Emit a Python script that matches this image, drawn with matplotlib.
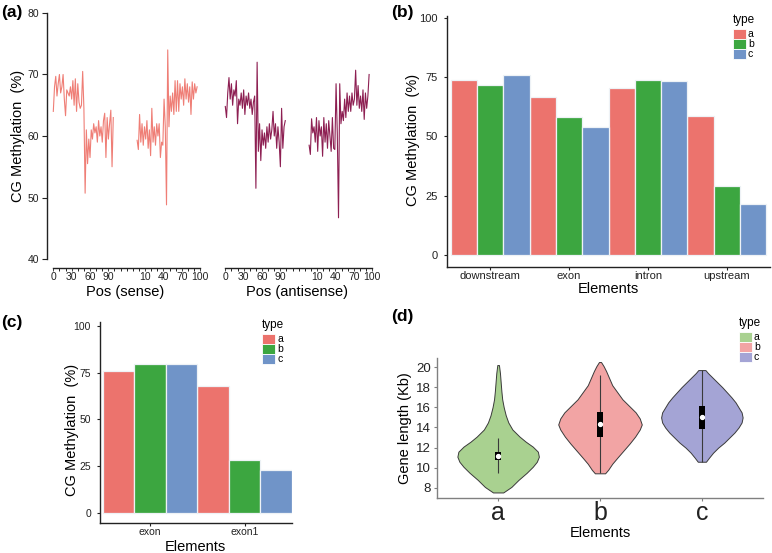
import numpy as np
import matplotlib
matplotlib.use('Agg')
import matplotlib.pyplot as plt
from matplotlib.patches import Rectangle

plt.rcParams['font.family'] = ['Liberation Sans', 'DejaVu Sans']

W, H = 772, 553

# ---- data -----------------------------------------------------------------
# (a) CG methylation along the gene, two segments per strand
pos_seg1 = list(range(0, 100, 2))
pos_seg2 = list(range(137, 237, 2))
pos_ticks = [0, 30, 60, 90, 150, 180, 210, 240]
pos_ticklabels = ['0', '30', '60', '90', '10', '40', '70', '100']

sense_seg1 = [64.0, 68.0, 69.7, 66.5, 68.5, 70.0, 67.0, 68.0, 70.0, 66.0,
              63.3, 67.5, 67.0, 66.5, 68.0, 66.0, 69.0, 65.0, 69.3, 64.0,
              68.5, 65.5, 64.5, 65.0, 70.5, 64.5, 50.7, 61.0, 55.5, 59.5,
              56.5, 61.0, 59.5, 62.0, 60.5, 61.5, 59.0, 62.5, 60.0, 61.5,
              59.0, 62.5, 63.7, 56.5, 63.0, 59.5, 62.0, 64.2, 55.0, 63.0]
sense_seg2 = [59.3, 57.8, 63.5, 59.0, 62.0, 58.5, 61.5, 59.5, 62.5, 58.0,
              61.0, 56.8, 64.5, 59.0, 61.5, 58.5, 62.0, 60.0, 62.0, 56.5,
              59.0, 58.5, 66.0, 61.5, 48.8, 74.0, 61.5, 66.5, 64.0, 67.0,
              63.5, 69.0, 64.0, 69.0, 64.0, 68.5, 66.0, 68.0, 65.0, 69.3,
              66.0, 68.5, 65.5, 68.0, 63.5, 68.8, 66.0, 68.5, 67.0, 68.0]
anti_seg1 = [64.8, 63.0, 67.0, 69.5, 66.0, 68.5, 65.0, 67.5, 66.5, 69.0,
             62.0, 66.0, 65.0, 67.0, 64.5, 67.5, 63.5, 66.5, 65.0, 67.0,
             64.5, 66.0, 63.5, 65.5, 66.5, 51.5, 72.0, 57.5, 62.0, 56.0,
             61.0, 58.5, 60.5, 58.0, 61.5, 59.0, 62.0, 59.5, 61.0, 64.0,
             60.0, 62.0, 58.0, 61.5, 59.0, 55.0, 64.5, 58.0, 61.5, 62.5]
anti_seg2 = [58.5, 57.0, 62.8, 60.5, 61.5, 59.0, 63.0, 57.5, 62.5, 60.0,
             61.5, 56.7, 63.0, 59.0, 62.0, 58.0, 62.5, 60.0, 57.5, 63.0,
             58.0, 57.8, 68.5, 60.5, 46.7, 68.5, 62.0, 64.0, 62.5, 66.0,
             63.0, 67.0, 64.0, 66.5, 64.0, 67.0, 65.0, 66.0, 70.7, 65.0,
             68.2, 64.5, 66.5, 64.0, 67.5, 62.7, 67.0, 64.5, 66.5, 70.0]

# (b) methylation per element
elements_b = ['downstream', 'exon', 'intron', 'upstream']
meth_b_a = [73.7, 66.6, 70.4, 58.7]
meth_b_b = [71.7, 58.2, 73.9, 29.2]
meth_b_c = [75.8, 53.8, 73.2, 21.4]

# (c) methylation exon vs first exon
elements_c = ['exon', 'exon1']
meth_c_a = [76.0, 68.0]
meth_c_b = [79.4, 28.5]
meth_c_c = [79.7, 23.1]

types = ['a', 'b', 'c']
bar_colors = ['#EC736D', '#3CA640', '#7094C8']
violin_colors = ['#A9D190', '#F2A4A4', '#A4A4D5']

# (d) gene length violins: density outline (y, half width) per type
vio_a_y = [7.55, 8.1, 8.8, 9.5, 10.1, 10.6, 11.1, 11.6, 12.1, 12.6,
           13.1, 13.8, 14.5, 15.2, 16.0, 16.8, 17.6, 18.5, 19.4, 20.2]
vio_a_w = [0.05, 0.13, 0.2, 0.28, 0.34, 0.38, 0.40, 0.39, 0.34, 0.27,
           0.21, 0.14, 0.10, 0.075, 0.055, 0.04, 0.032, 0.025, 0.018, 0.008]
vio_b_y = [9.45, 9.8, 10.4, 11.0, 11.7, 12.4, 13.1, 13.8, 14.3, 14.9,
           15.5, 16.1, 16.8, 17.5, 18.2, 18.9, 19.6, 20.1, 20.5]
vio_b_w = [0.05, 0.08, 0.12, 0.17, 0.23, 0.29, 0.345, 0.39, 0.41, 0.39,
           0.35, 0.29, 0.22, 0.17, 0.12, 0.09, 0.06, 0.035, 0.01]
vio_c_y = [10.6, 11.0, 11.5, 12.0, 12.5, 13.0, 13.5, 14.0, 14.5, 15.0,
           15.5, 16.0, 16.5, 17.0, 17.5, 18.0, 18.5, 19.0, 19.4, 19.7]
vio_c_w = [0.04, 0.07, 0.11, 0.16, 0.22, 0.27, 0.32, 0.36, 0.39, 0.40,
           0.39, 0.36, 0.33, 0.29, 0.245, 0.2, 0.15, 0.1, 0.06, 0.035]
box_q1 = [10.8, 13.1, 13.9]
box_q3 = [11.6, 15.55, 16.15]
whisk_lo = [9.45, 9.5, 10.6]
whisk_hi = [13.0, 19.2, 19.75]
medians = [11.15, 14.35, 15.0]


def rect(l, t, r, b):
    return [l / W, 1 - b / H, (r - l) / W, (b - t) / H]


def ftext(x, y, s, **kw):
    fig.text(x / W, 1 - y / H, s, **kw)


def legend(x, y, colors):
    ftext(x, y, 'type', fontsize=8.5, va='center', ha='left')
    for i, (lab, col) in enumerate(zip(types, colors)):
        top = y + 9 + i * 10
        fig.patches.append(Rectangle((x / W, 1 - (top + 10) / H), 13 / W, 10 / H,
                                     transform=fig.transFigure, facecolor=col,
                                     edgecolor='white', linewidth=0.6))
        ftext(x + 15, top + 5, lab, fontsize=7.5, va='center', ha='left')


def style(ax, color='#222222'):
    for s in ['top', 'right']:
        ax.spines[s].set_visible(False)
    for s in ['left', 'bottom']:
        ax.spines[s].set_color(color)
        ax.spines[s].set_linewidth(1.0)
    ax.tick_params(length=2.5, width=0.8, color=color, pad=2, labelcolor='#222222')


fig = plt.figure(figsize=(W / 100, H / 100), dpi=100)

# ---- (a) ------------------------------------------------------------------
ax_s = fig.add_axes(rect(47, 13, 202, 259))
ax_as = fig.add_axes(rect(219, 13, 374, 259))
sense_col = '#EF7E76'
anti_col = '#8D1F52'
ax_s.plot(pos_seg1, sense_seg1, color=sense_col, lw=0.8)
ax_s.plot(pos_seg2, sense_seg2, color=sense_col, lw=0.8)
ax_as.plot(pos_seg1, anti_seg1, color=anti_col, lw=0.8)
ax_as.plot(pos_seg2, anti_seg2, color=anti_col, lw=0.8)
for ax in [ax_s, ax_as]:
    style(ax)
    ax.set_xlim(-10.3, 243)
    ax.set_ylim(40, 80)
    ax.spines['bottom'].set_bounds(0, 240)
    ax.spines['bottom'].set_position(('outward', 6.5))
    ax.set_xticks(pos_ticks)
    ax.set_xticklabels(pos_ticklabels, fontsize=7.5)
    ax.set_xticks(range(0, 241, 10), minor=True)
    ax.tick_params(axis='x', which='both', length=2, width=0.6, pad=1)
    ax.patch.set_alpha(0)
ax_s.set_yticks([40, 50, 60, 70, 80])
ax_s.tick_params(axis='y', labelsize=7.5, length=3.5)
ax_as.spines['left'].set_visible(False)
ax_as.set_yticks([])
ftext(18, 136, 'CG Methylation  (%)', rotation=90, fontsize=10.5, ha='center', va='center')
ftext(125, 292, 'Pos (sense)', fontsize=10.5, ha='center', va='center')
ftext(297, 292, 'Pos (antisense)', fontsize=10.5, ha='center', va='center')
ftext(1, 12, '(a)', fontsize=12.5, fontweight='bold', va='center')

# ---- (b) ------------------------------------------------------------------
ax_b = fig.add_axes(rect(447, 16, 770, 267))
xb = np.arange(len(elements_b))
for i, (vals, col) in enumerate(zip([meth_b_a, meth_b_b, meth_b_c], bar_colors)):
    ax_b.bar(xb + (i - 1) / 3, vals, width=1 / 3, color=col, edgecolor='#EEF2F6', linewidth=0.9)
style(ax_b)
ax_b.set_xlim(-0.55, 3.55)
ax_b.set_ylim(-5.1, 100.8)
ax_b.set_yticks([0, 25, 50, 75, 100])
ax_b.set_xticks(xb)
ax_b.set_xticklabels(elements_b, fontsize=8)
ax_b.tick_params(axis='x', pad=0.5)
ax_b.tick_params(axis='y', labelsize=8, pad=4)
ftext(413, 140, 'CG Methylation  (%)', rotation=90, fontsize=10.5, ha='center', va='center')
ftext(608, 289, 'Elements', fontsize=10.5, ha='center', va='center')
ftext(391, 12, '(b)', fontsize=12.5, fontweight='bold', va='center')
legend(733, 20, bar_colors)

# ---- (c) ------------------------------------------------------------------
ax_c = fig.add_axes(rect(100, 322, 292, 523))
xc = np.arange(len(elements_c))
for i, (vals, col) in enumerate(zip([meth_c_a, meth_c_b, meth_c_c], bar_colors)):
    ax_c.bar(xc + (i - 1) / 3, vals, width=1 / 3, color=col, edgecolor='#EEF2F6', linewidth=0.9)
style(ax_c)
ax_c.set_xlim(-0.53, 1.5)
ax_c.set_ylim(-5.3, 102)
ax_c.set_yticks([0, 25, 50, 75, 100])
ax_c.set_xticks(xc)
ax_c.set_xticklabels(elements_c, fontsize=7.5)
ax_c.tick_params(axis='x', pad=0.5)
ax_c.tick_params(axis='y', labelsize=7.5, pad=4)
ftext(72, 430, 'CG Methylation  (%)', rotation=90, fontsize=10.5, ha='center', va='center')
ftext(195, 547, 'Elements', fontsize=10.5, ha='center', va='center')
ftext(1, 322, '(c)', fontsize=12.5, fontweight='bold', va='center')
legend(262, 325, bar_colors)

# ---- (d) ------------------------------------------------------------------
ax_d = fig.add_axes(rect(437, 358, 763, 498))
profiles = [(vio_a_y, vio_a_w), (vio_b_y, vio_b_w), (vio_c_y, vio_c_w)]
for k, ((vy, vw), col) in enumerate(zip(profiles, violin_colors)):
    c = k + 1
    vy = np.array(vy)
    vw = np.array(vw)
    ax_d.fill_betweenx(vy, c - vw, c + vw, facecolor=col, edgecolor='#3A3A3A', linewidth=0.7)
    ax_d.vlines(c, whisk_lo[k], whisk_hi[k], color='#3A3A3A', lw=0.8)
    ax_d.add_patch(Rectangle((c - 0.03, box_q1[k]), 0.06, box_q3[k] - box_q1[k],
                             facecolor='black', edgecolor='none', zorder=3))
    ax_d.plot(c, medians[k], 'o', color='white', ms=2.8, zorder=4)
style(ax_d, color='#808080')
ax_d.set_xlim(0.4, 3.6)
ax_d.set_ylim(7.0, 20.9)
ax_d.set_yticks([8, 10, 12, 14, 16, 18, 20])
ax_d.set_xticks([1, 2, 3])
ax_d.set_xticklabels(types, fontsize=18)
ax_d.tick_params(axis='x', pad=0)
ax_d.tick_params(axis='y', labelsize=9.5, pad=2)
ftext(405, 428, 'Gene length (Kb)', rotation=90, fontsize=10.5, ha='center', va='center')
ftext(600, 533, 'Elements', fontsize=10.5, ha='center', va='center')
ftext(391, 317, '(d)', fontsize=12.5, fontweight='bold', va='center')
legend(739, 323, violin_colors)

fig.savefig('out.png', dpi=100)
